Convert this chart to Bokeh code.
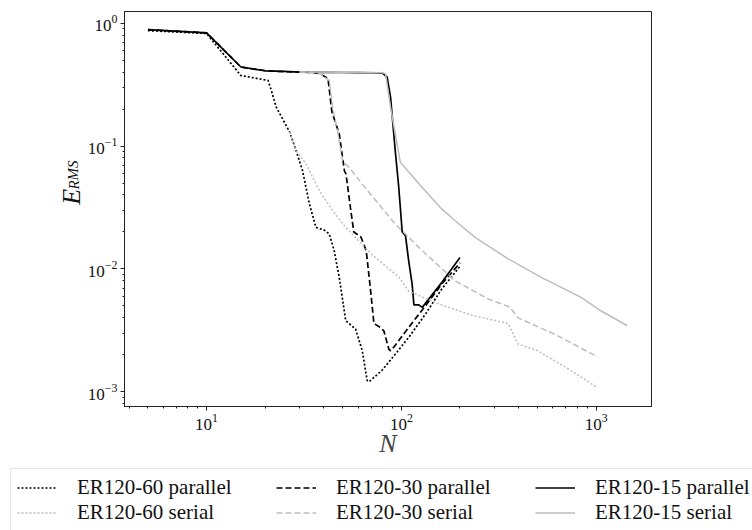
from bokeh.plotting import figure
from bokeh.models import Legend, LegendItem, Label, Range1d
from bokeh.layouts import column, row
from bokeh.embed import file_html
from bokeh.resources import INLINE

# ---- data ----
n_p60 = [5, 10, 15, 20.7, 21.5, 22.8, 26.7, 28.8, 31.1, 33.7, 36.4, 40.2, 42.6, 45.2, 48, 51.8, 58.2, 63, 66.8, 68.3, 79.4, 93.2, 109, 133, 161.5, 200]
e_p60 = [0.87, 0.825, 0.375, 0.342, 0.283, 0.207, 0.13, 0.092, 0.063, 0.034, 0.0218, 0.0207, 0.0193, 0.0141, 0.0085, 0.0038, 0.00324, 0.00216, 0.00123, 0.00121, 0.00149, 0.00203, 0.00277, 0.0043, 0.0069, 0.0105]

n_p30 = [5, 10, 15, 20, 25, 30, 35, 38, 42, 44, 48, 51, 52, 55, 57, 62, 66, 69.5, 72.3, 78, 81.3, 86.3, 88, 91.4, 109, 133, 161.5, 200]
e_p30 = [0.885, 0.835, 0.44, 0.41, 0.403, 0.40, 0.397, 0.39, 0.355, 0.19, 0.125, 0.063, 0.059, 0.030, 0.020, 0.0182, 0.0141, 0.0067, 0.0036, 0.00334, 0.00314, 0.00222, 0.00216, 0.00231, 0.00334, 0.00502, 0.00755, 0.0112]

n_p15 = [5, 10, 15, 20, 25, 30, 40, 50, 60, 70, 80, 84.5, 88, 93, 97, 101, 105, 109, 113.5, 116, 123, 128, 161.5, 200]
e_p15 = [0.885, 0.835, 0.44, 0.41, 0.405, 0.40, 0.398, 0.397, 0.396, 0.395, 0.393, 0.365, 0.25, 0.092, 0.046, 0.020, 0.0187, 0.0117, 0.0076, 0.0051, 0.0051, 0.00487, 0.00778, 0.0124]

n_s60 = [26.7, 28.8, 32.4, 37.9, 44.3, 51.8, 71, 97, 109, 155, 230, 353, 397, 502, 743, 1008]
e_s60 = [0.13, 0.092, 0.0716, 0.0434, 0.0299, 0.0218, 0.013, 0.0086, 0.0066, 0.0052, 0.0042, 0.0036, 0.00245, 0.00216, 0.00149, 0.00109]

n_s30 = [30, 35, 38, 42.7, 44.5, 47, 49.9, 54, 63, 93, 128, 189, 279, 360, 397, 611, 1016]
e_s30 = [0.40, 0.398, 0.39, 0.341, 0.20, 0.134, 0.076, 0.067, 0.049, 0.0232, 0.0141, 0.008, 0.0057, 0.0049, 0.0040, 0.00295, 0.00193]

n_s15 = [30, 50, 70, 80, 83, 88, 98.8, 127.6, 161, 189, 239, 353, 523, 837, 1057, 1446]
e_s15 = [0.40, 0.398, 0.397, 0.395, 0.387, 0.207, 0.0738, 0.0462, 0.0308, 0.0247, 0.0181, 0.0121, 0.00855, 0.00588, 0.00457, 0.00345]

labels = ["ER120-60 parallel", "ER120-60 serial", "ER120-30 parallel",
          "ER120-30 serial", "ER120-15 parallel", "ER120-15 serial"]

series = [(n_p60, e_p60), (n_s60, e_s60), (n_p30, e_p30),
          (n_s30, e_s30), (n_p15, e_p15), (n_s15, e_s15)]

SERIF = "Liberation Serif"
BLACK = "#000000"
GRAY = "#bdbdbd"
DOT = "2 2"
DASH = "6 3"
styles = [dict(line_color=BLACK, line_width=1.7, line_dash=DOT),
          dict(line_color=GRAY, line_width=1.5, line_dash=DOT),
          dict(line_color=BLACK, line_width=1.7, line_dash=DASH),
          dict(line_color=GRAY, line_width=1.5, line_dash=DASH),
          dict(line_color=BLACK, line_width=1.7),
          dict(line_color=GRAY, line_width=1.5)]

W = 752
TOP_H = 468
LEG_H = 530 - TOP_H
YLAB_W = 84

# ---------------- main plot ----------------
p = figure(width=W - YLAB_W, height=TOP_H, x_axis_type="log", y_axis_type="log",
           x_range=Range1d(3.79, 1924), y_range=Range1d(7.6e-4, 1.245),
           output_backend="svg", toolbar_location=None,
           min_border_left=120 - YLAB_W, min_border_right=101,
           min_border_top=11, min_border_bottom=62)

p.xgrid.grid_line_color = None
p.ygrid.grid_line_color = None
p.outline_line_color = "#222222"
p.outline_line_width = 1

for ax in (p.xaxis[0], p.yaxis[0]):
    ax.axis_line_color = "#222222"
    ax.major_tick_line_color = "#222222"
    ax.minor_tick_line_color = "#222222"
    ax.major_tick_in = 0
    ax.major_tick_out = 4
    ax.minor_tick_in = 0
    ax.minor_tick_out = 2
    ax.major_label_text_font = SERIF
    ax.major_label_text_font_size = "17px"
    ax.major_label_text_color = "#111111"

p.xaxis.major_label_standoff = 3
p.yaxis.major_label_standoff = 3
p.xaxis.axis_label = "N"
p.xaxis.axis_label_text_font = SERIF
p.xaxis.axis_label_text_font_style = "italic"
p.xaxis.axis_label_text_font_size = "26px"
p.xaxis.axis_label_standoff = -4

# parallel first, serial on top
order = [0, 2, 4, 1, 3, 5]
for i in order:
    n, e = series[i]
    p.line(n, e, **styles[i])

# ---------------- y-axis label panel ----------------
yl = figure(width=YLAB_W, height=TOP_H, x_range=Range1d(0, YLAB_W), y_range=Range1d(0, TOP_H),
            output_backend="svg", toolbar_location=None, min_border=0,
            x_axis_location=None, y_axis_location=None)
yl.grid.grid_line_color = None
yl.outline_line_color = None
yl.add_layout(Label(x=71, y=239, text="E", angle=1.5708, text_font=SERIF,
                    text_font_style="italic", text_font_size="26px",
                    text_baseline="alphabetic", text_align="left", text_color="#111111"))
yl.add_layout(Label(x=73, y=257, text="RMS", angle=1.5708, text_font=SERIF,
                    text_font_style="italic", text_font_size="15px",
                    text_baseline="alphabetic", text_align="left", text_color="#111111"))

# ---------------- legend panel ----------------
lg = figure(width=W, height=LEG_H, x_range=Range1d(0, 1), y_range=Range1d(0, 1),
            output_backend="svg", toolbar_location=None, min_border=0, min_border_left=10,
            x_axis_location=None, y_axis_location=None)
lg.grid.grid_line_color = None
lg.outline_line_color = None
items = []
for lab, (n, e), st in zip(labels, series, styles):
    r = lg.line(n, e, **st)   # data lies outside this panel's ranges; only the legend keys show
    items.append(LegendItem(label=lab, renderers=[r]))
legend = Legend(items=items, location="top_left", orientation="vertical", ncols=3,
                label_text_font=SERIF, label_text_font_size="21px",
                label_text_color="#111111",
                glyph_width=40, glyph_height=25, label_height=25,
                label_standoff=20, label_width=199, spacing=0, padding=6, margin=0,
                border_line_color="#d0d0d0", border_line_width=1,
                background_fill_color="white", background_fill_alpha=1)
lg.add_layout(legend)

layout = column(row(yl, p), lg)
open("out.html", "w").write(file_html(layout, INLINE))
